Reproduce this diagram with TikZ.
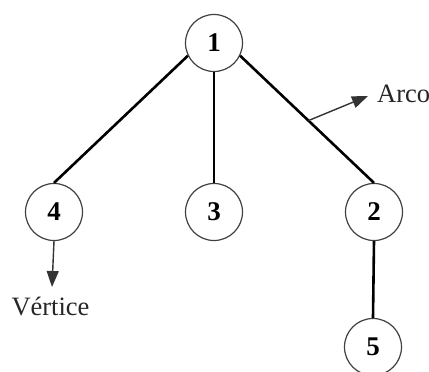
\documentclass[tikz,border=0pt]{standalone}
\usepackage{fontspec}
\setmainfont{Liberation Serif}
\usetikzlibrary{arrows.meta}
\begin{document}
\begin{tikzpicture}[x=1pt,y=1pt,
  vertex/.style={circle,draw=black!75,line width=1.2pt,minimum size=57pt,inner sep=0pt,
                 font=\fontsize{27}{30}\selectfont\bfseries},
  arc/.style={line width=2.6pt,black},
  pointer/.style={line width=1.4pt,black!80,-{Triangle[width=12pt,length=16pt]}},
  caption/.style={font=\fontsize{26.5}{29}\selectfont,text=black!85,inner sep=0pt}]
  \useasboundingbox (0,0) rectangle (429,372);
  % vertices of the tree
  \node[vertex] (n1) at (214,329) {1};
  \node[vertex] (n4) at (54,160) {4};
  \node[vertex] (n3) at (214,160) {3};
  \node[vertex] (n2) at (374,160) {2};
  \node[vertex] (n5) at (373,25) {5};
  % edges
  \draw[arc] (n1.206) -- (n4.north);
  \draw[arc] (n1.south) -- (n3.north);
  \draw[arc] (n1.334) -- coordinate[pos=0.51] (mid12) (n2.north);
  \draw[arc] (n2.south) -- (n5.north);
  % annotations
  \coordinate (vtip) at (52,85);
  \coordinate (atip) at (368,276);
  \draw[pointer] (n4.south) -- (vtip);
  \draw[pointer] (mid12) -- (atip);
  \node[caption,anchor=base] (vlabel) at (50.5,56) {Vértice};
  \node[caption,anchor=base west] (alabel) at (377,269) {Arco};
\end{tikzpicture}
\end{document}
